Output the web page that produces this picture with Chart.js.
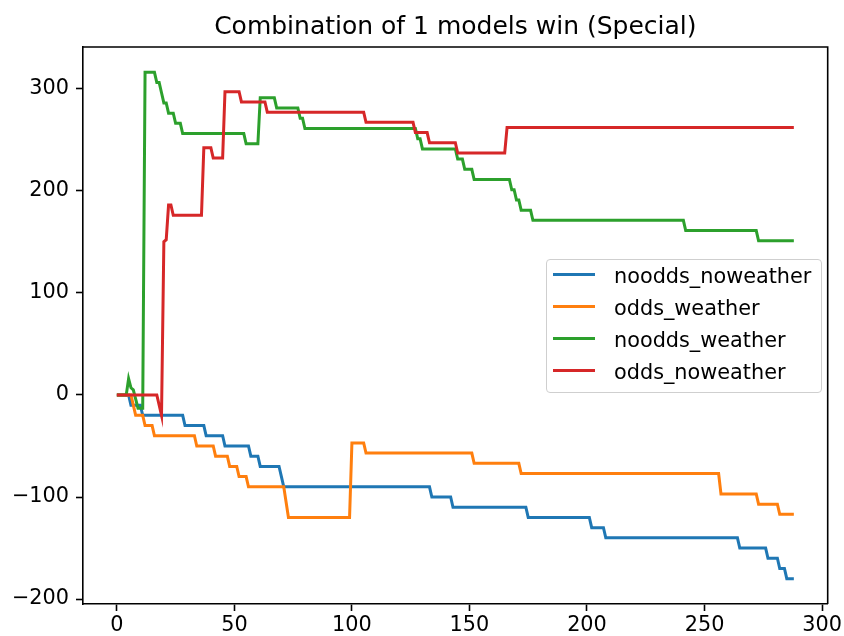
<!DOCTYPE html>
<html lang="en">
<head>
  <meta charset="UTF-8">
  <title>Combination of 1 models win (Special)</title>
  <script src="https://cdn.jsdelivr.net/npm/chart.js"></script>
  <style>
    body {
      margin: 0;
      background: #fff;
      font-family: 'DejaVu Sans', sans-serif;
    }
    #wrap {
      position: relative;
      width: 844px;
      height: 636px;
    }
    canvas { display: block; }
    .legend {
      position: absolute;
      left: 546px;
      top: 259px;
      width: 276px;
      height: 134px;
      box-sizing: border-box;
      border: 1.5px solid #cfcfcf;
      border-radius: 4px;
      background: rgba(255,255,255,0.8);
      color: #000;
      font-size: 20.8px;
    }
    .legend .swatch {
      position: absolute;
      left: 6px;
      width: 42px;
      height: 3px;
    }
    .legend .label {
      position: absolute;
      left: 67px;
      line-height: 24px;
      white-space: nowrap;
    }
  </style>
</head>
<body>
  <div id="wrap">
    <canvas id="chart" width="844" height="636"></canvas>
    <div class="legend" id="legend"></div>
  </div>

  <script>
    const chartTitle = "Combination of 1 models win (Special)";
    const names = ["noodds_noweather", "odds_weather", "noodds_weather", "odds_noweather"];
    const colors = ["#1f77b4", "#ff7f0e", "#2ca02c", "#d62728"];

    // [x, y] points where the running total changes
    const nooddsNoweather = [
      [0, 0], [5, 0], [6, -10], [10, -10], [11, -20], [28, -20], [29, -30], [37, -30], [38, -40],
      [45, -40], [46, -50], [56, -50], [57, -60], [60, -60], [61, -70], [69, -70], [70, -80], [71, -90],
      [133, -90], [134, -100], [142, -100], [143, -110], [174, -110], [175, -120], [201, -120], [202, -130],
      [207, -130], [208, -140], [264, -140], [265, -150], [276, -150], [277, -160], [281, -160], [282, -170],
      [284, -170], [285, -180], [288, -180]
    ];
    const oddsWeather = [
      [0, 0], [6, 0], [7, -10], [8, -20], [11, -20], [12, -30], [15, -30], [16, -40], [33, -40], [34, -50],
      [41, -50], [42, -60], [47, -60], [48, -70], [51, -70], [52, -80], [55, -80], [56, -90], [71, -90],
      [73, -120], [99, -120], [100, -47], [105, -47], [106, -57], [151, -57], [152, -67], [171, -67],
      [172, -77], [256, -77], [257, -97], [272, -97], [273, -107], [281, -107], [282, -117], [288, -117]
    ];
    const nooddsWeather = [
      [0, 0], [4, 0], [5, 16], [6, 7], [7, 5], [9, -13], [11, -13], [12, 316], [16, 316], [17, 306],
      [18, 306], [19, 296], [20, 286], [21, 286], [22, 276], [24, 276], [25, 266], [27, 266], [28, 256],
      [54, 256], [55, 246], [60, 246], [61, 291], [67, 291], [68, 281], [77, 281], [78, 271], [79, 271],
      [80, 261], [127, 261], [128, 251], [129, 251], [130, 241], [144, 241], [145, 231], [147, 231],
      [148, 221], [151, 221], [152, 211], [167, 211], [168, 201], [169, 201], [170, 191], [171, 191],
      [172, 181], [176, 181], [177, 171], [241, 171], [242, 161], [272, 161], [273, 151], [288, 151]
    ];
    const oddsNoweather = [
      [0, 0], [17, 0], [19, -20], [20, 150], [21, 152], [22, 186], [23, 186], [24, 176], [36, 176],
      [37, 242], [40, 242], [41, 232], [45, 232], [46, 297], [52, 297], [53, 287], [63, 287], [64, 277],
      [105, 277], [106, 267], [126, 267], [127, 257], [132, 257], [133, 247], [144, 247], [145, 237],
      [165, 237], [166, 262], [288, 262]
    ];
    const series = [nooddsNoweather, oddsWeather, nooddsWeather, oddsNoweather];

    const xTicks = [0, 50, 100, 150, 200, 250, 300];
    const yTicks = [-200, -100, 0, 100, 200, 300];

    const tickFont = { family: "'DejaVu Sans', sans-serif", size: 20.8 };

    // matplotlib draws all four spines plus the title centred over the axes
    const framePlugin = {
      id: "frame",
      afterDraw(chart) {
        const { ctx, chartArea: a } = chart;
        ctx.save();
        ctx.strokeStyle = "#000";
        ctx.lineWidth = 1.6;
        ctx.beginPath();
        ctx.moveTo(a.left, a.top);
        ctx.lineTo(a.right, a.top);
        ctx.lineTo(a.right, a.bottom);
        ctx.stroke();
        ctx.fillStyle = "#000";
        ctx.font = "25px 'DejaVu Sans', sans-serif";
        ctx.textAlign = "center";
        ctx.textBaseline = "alphabetic";
        ctx.fillText(chartTitle, (a.left + a.right) / 2, a.top - 13);
        ctx.restore();
      }
    };

    new Chart(document.getElementById("chart").getContext("2d"), {
      type: "line",
      data: {
        datasets: series.map((d, i) => ({
          label: names[i],
          data: d,
          borderColor: colors[i],
          backgroundColor: colors[i],
          borderWidth: 3,
          pointRadius: 0,
          tension: 0,
          fill: false,
          order: series.length - i
        }))
      },
      options: {
        responsive: false,
        animation: false,
        devicePixelRatio: 1,
        layout: { padding: { top: 47, right: 13, left: 0, bottom: 0 } },
        plugins: {
          legend: { display: false },
          tooltip: { enabled: false },
          title: { display: false }
        },
        scales: {
          x: {
            type: "linear",
            min: -14.4,
            max: 302.4,
            afterBuildTicks: s => { s.ticks = xTicks.map(v => ({ value: v })); },
            afterFit: s => { s.height = 32; },
            ticks: { font: tickFont, color: "#000", padding: 2, maxRotation: 0, autoSkip: false },
            grid: { drawOnChartArea: false, drawTicks: true, tickLength: 7, tickWidth: 1.6, color: "#000" },
            border: { display: true, color: "#000", width: 1.6 }
          },
          y: {
            type: "linear",
            min: -204.8,
            max: 340.8,
            afterBuildTicks: s => { s.ticks = yTicks.map(v => ({ value: v })); },
            afterFit: s => { s.width = 83; },
            ticks: {
              font: tickFont, color: "#000", padding: 7,
              callback: v => String(v).replace("-", "\u2212")
            },
            grid: { drawOnChartArea: false, drawTicks: true, tickLength: 7, tickWidth: 1.6, color: "#000" },
            border: { display: true, color: "#000", width: 1.6 }
          }
        }
      },
      plugins: [framePlugin]
    });

    // legend box, matplotlib style
    const legend = document.getElementById("legend");
    const rowY = [16, 48, 80, 111.5];
    names.forEach((n, i) => {
      const sw = document.createElement("div");
      sw.className = "swatch";
      sw.style.top = (rowY[i] - 1.5 - 1.5) + "px";
      sw.style.background = colors[i];
      legend.appendChild(sw);
      const lb = document.createElement("div");
      lb.className = "label";
      lb.style.top = (rowY[i] - 1.5 - 10.5) + "px";
      lb.textContent = n;
      legend.appendChild(lb);
    });
  </script>
</body>
</html>
